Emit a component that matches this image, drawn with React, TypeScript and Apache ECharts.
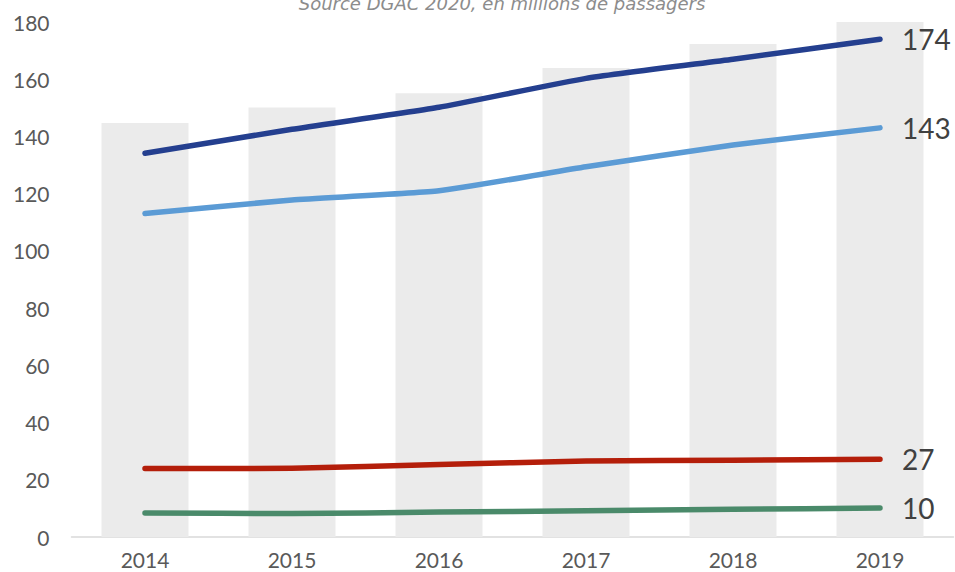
import React, { useEffect, useRef } from "react";
import * as echarts from "echarts";

const years = ["2014", "2015", "2016", "2017", "2018", "2019"];
const totalBars = [144.7, 150.1, 155.1, 163.9, 172.3, 180];
const darkBlue = [134.1, 142.5, 150.2, 160.3, 167.0, 174];
const lightBlue = [113.1, 117.8, 121.0, 129.4, 137.0, 143];
const red = [23.9, 24.0, 25.3, 26.6, 26.8, 27.2];
const green = [8.4, 8.2, 8.7, 9.2, 9.7, 10.1];
const yTicks = { min: 0, max: 180, interval: 20 };
const subtitle = "Source DGAC 2020, en millions de passagers";

const FONT = "Lato";

function lineSeries(name: string, data: number[], color: string) {
  return {
    name,
    type: "line",
    data,
    symbol: "none",
    smooth: 0.15,
    z: 5,
    lineStyle: { color, width: 5.5, cap: "round", join: "round" },
    endLabel: {
      show: true,
      formatter: (p: any) => String(Math.round(p.value)),
      fontSize: 28,
      color: "#404040",
      fontFamily: FONT,
      distance: 22,
    },
  };
}

export default function App() {
  const ref = useRef<HTMLDivElement>(null);
  useEffect(() => {
    if (!ref.current) return;
    const chart = echarts.init(ref.current, null, { renderer: "svg" });
    chart.setOption({
      animation: false,
      backgroundColor: "#ffffff",
      grid: { left: 71.5, right: 1.5, top: 22, bottom: 35, containLabel: false },
      graphic: [
        {
          type: "text",
          x: 502,
          y: 3,
          style: {
            text: subtitle,
            textAlign: "center",
            textVerticalAlign: "middle",
            fontSize: 18,
            fontStyle: "italic",
            fontFamily: "DejaVu Sans",
            fill: "#8c8c8c",
          },
        },
      ],
      xAxis: {
        type: "category",
        data: years,
        boundaryGap: true,
        axisLine: { lineStyle: { color: "#d9d9d9", width: 1.5 } },
        axisTick: { show: false },
        axisLabel: { color: "#595959", fontSize: 21, fontFamily: FONT, margin: 12 },
      },
      yAxis: {
        type: "value",
        min: yTicks.min,
        max: yTicks.max,
        interval: yTicks.interval,
        axisLine: { show: false },
        axisTick: { show: false },
        splitLine: { show: false },
        axisLabel: { color: "#595959", fontSize: 21, fontFamily: FONT, margin: 22 },
      },
      series: [
        {
          name: "Total",
          type: "bar",
          data: totalBars,
          barWidth: 87,
          itemStyle: { color: "#ebebeb" },
          z: 1,
        },
        lineSeries("A", darkBlue, "#243f8f"),
        lineSeries("B", lightBlue, "#5b9bd5"),
        lineSeries("C", red, "#b41e0a"),
        lineSeries("D", green, "#4a8a6a"),
      ],
    });
    return () => chart.dispose();
  }, []);
  return (
    <div
      ref={ref}
      style={{ position: "fixed", left: 0, top: 0, width: 955, height: 572 }}
    />
  );
}
